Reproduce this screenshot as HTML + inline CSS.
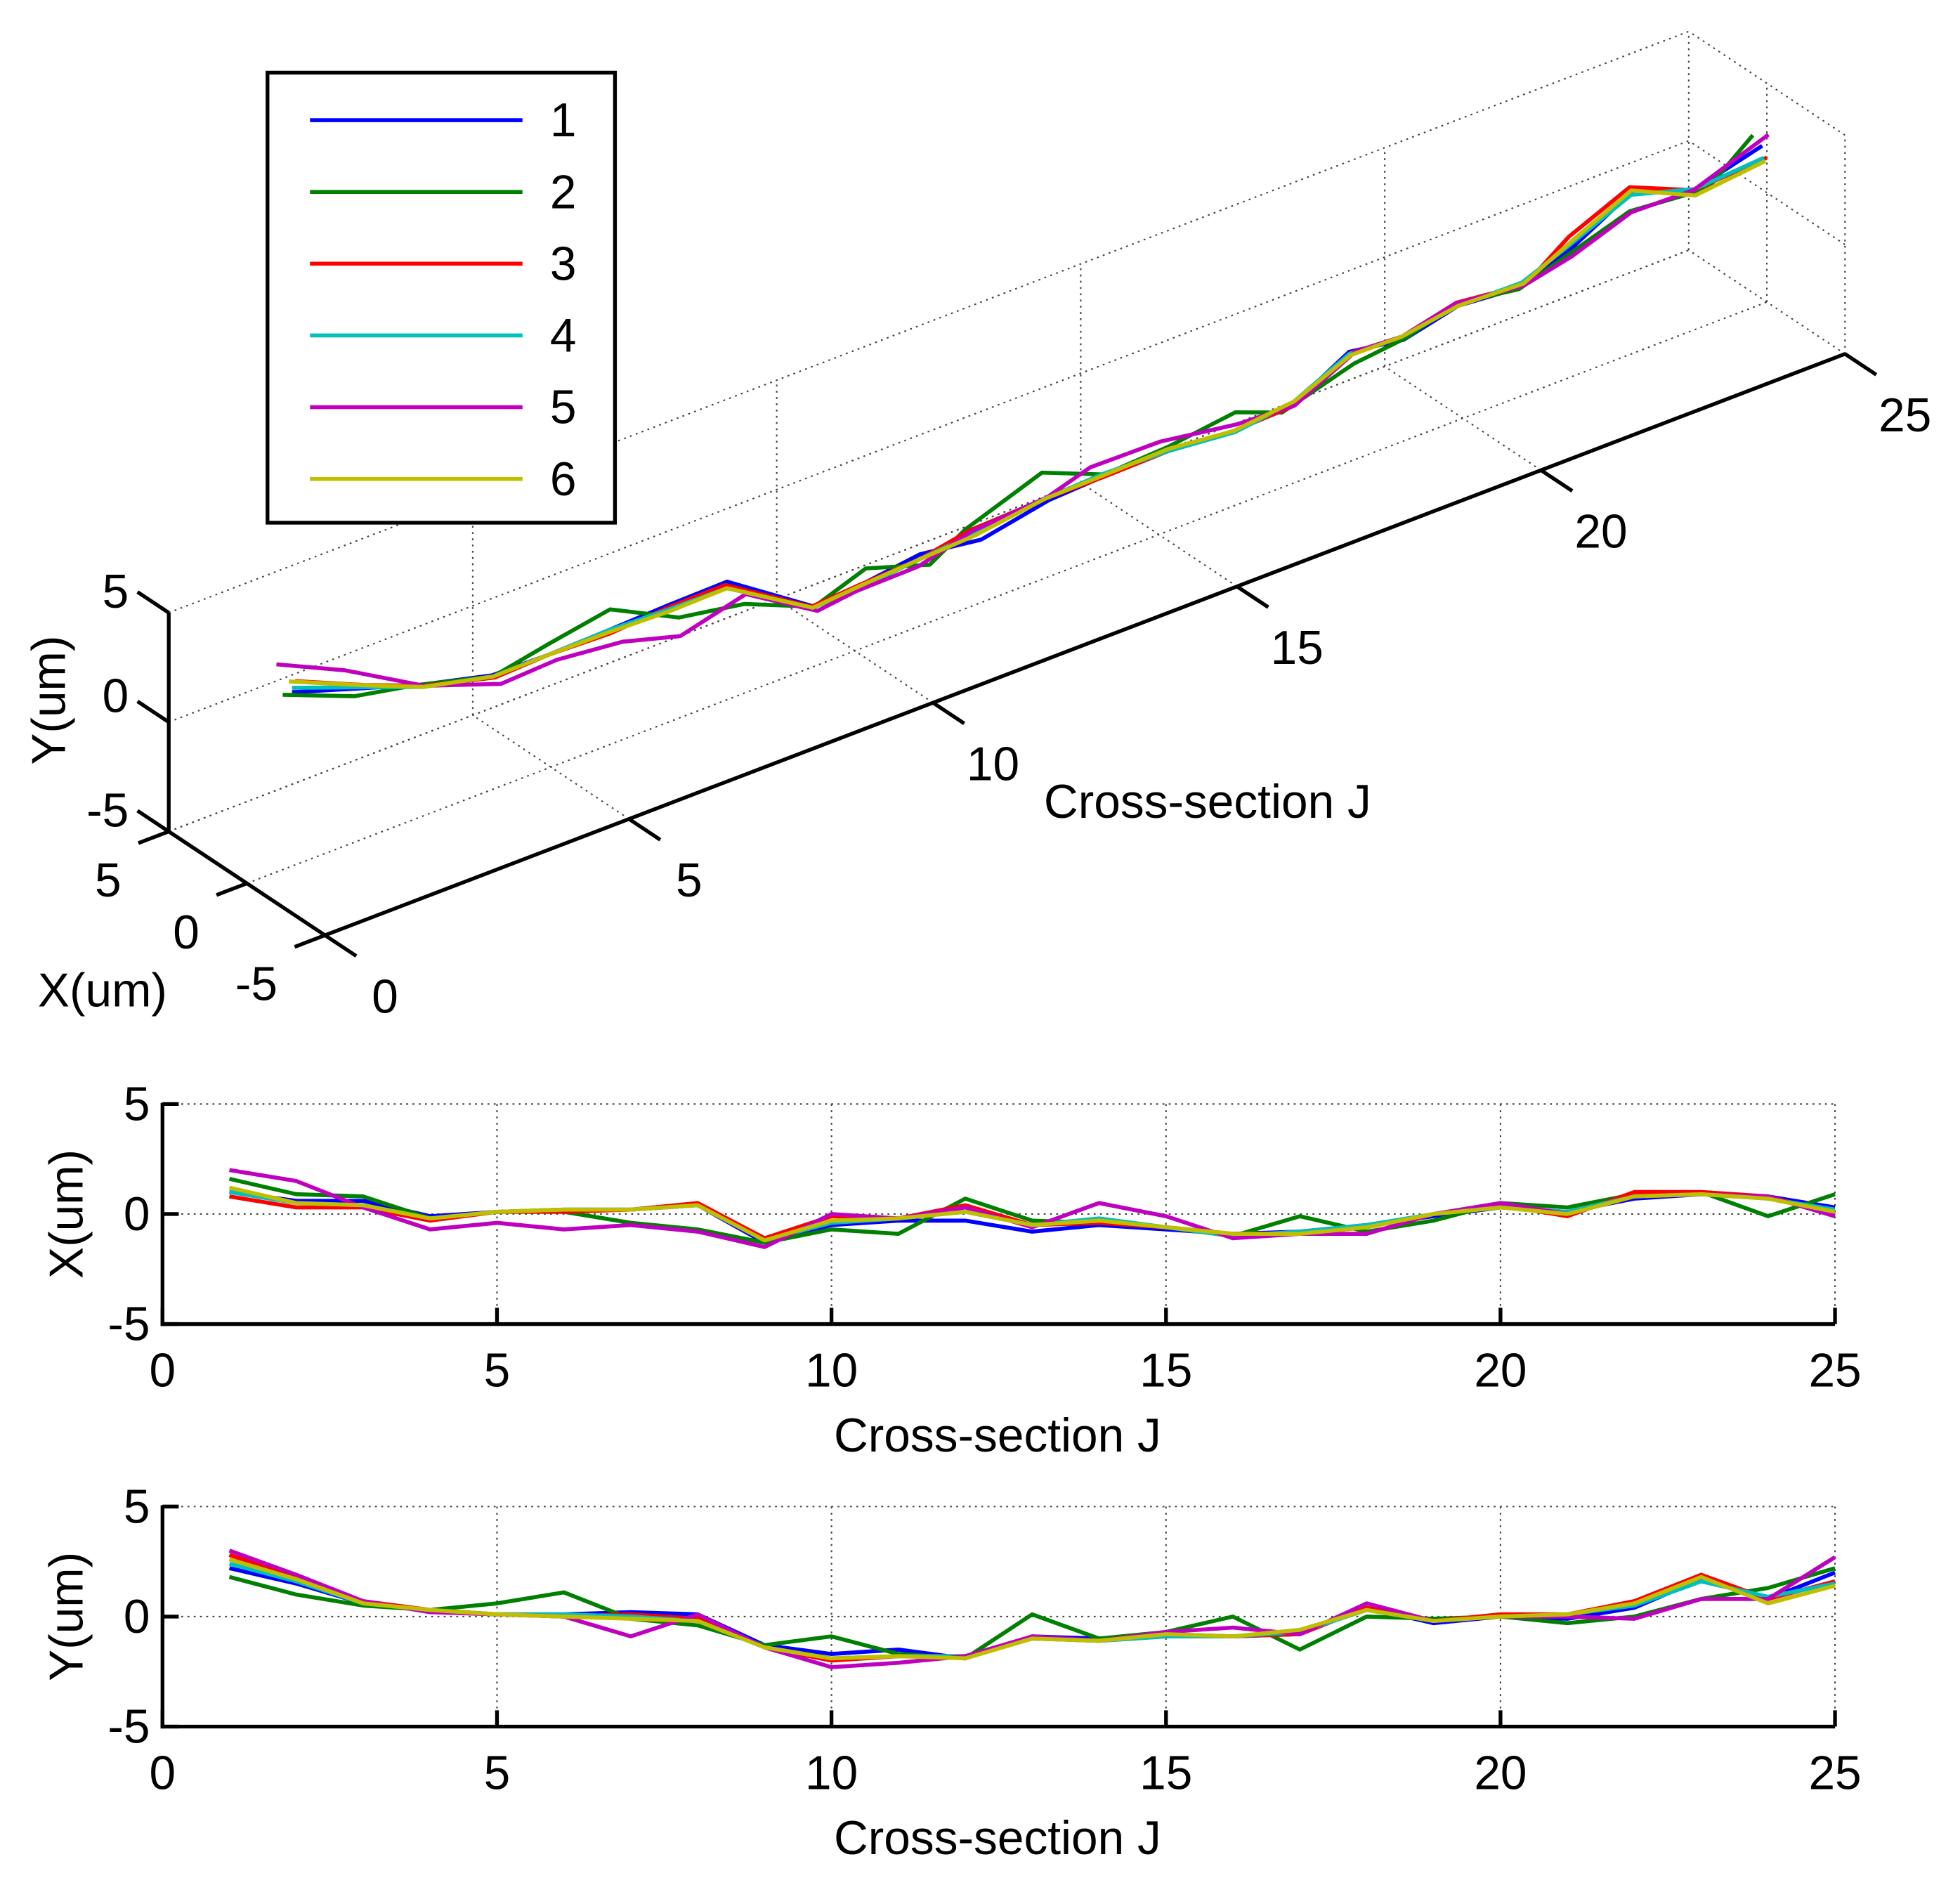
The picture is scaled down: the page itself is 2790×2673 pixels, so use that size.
<!DOCTYPE html>
<html><head><meta charset="utf-8">
<style>html,body{margin:0;padding:0;background:#fff}svg{display:block}text{font-family:"Liberation Sans",Arial,sans-serif;fill:#000}</style>
</head><body>
<svg id="chart" xmlns="http://www.w3.org/2000/svg" width="2790" height="2673" viewBox="0 0 1568 1502">
<rect width="1568" height="1502" fill="#fff"/>
<g id="g3d"></g>
<g id="gx"></g>
<g id="gy"></g>
<g id="legend"></g>
</svg>
<script>
const categories = [1,2,3,4,5,6,7,8,9,10,11,12,13,14,15,16,17,18,19,20,21,22,23,24,25];
const seriesNames = ['1','2','3','4','5','6'];
const seriesColors = ['#0000ff','#008000','#ff0000','#00bfbf','#bf00bf','#bfbf00'];
const xTickLabels = [0,5,10,15,20,25];
const yTickLabels = [-5,0,5];
const xS1 = [1.0,0.6,0.6,-0.1,0.1,0.2,0.2,0.4,-1.3,-0.5,-0.3,-0.3,-0.8,-0.5,-0.7,-0.9,-0.8,-0.5,-0.1,0.3,0.1,0.7,0.9,0.8,0.3];
const xS2 = [1.6,0.9,0.8,-0.2,0.1,0.1,-0.4,-0.7,-1.3,-0.7,-0.9,0.7,-0.3,-0.4,-0.6,-1.0,-0.1,-0.8,-0.3,0.5,0.3,0.9,1.0,-0.1,0.9];
const xS3 = [0.8,0.3,0.3,-0.3,0.1,0.1,0.2,0.5,-1.1,-0.1,-0.2,0.4,-0.5,-0.4,-0.6,-0.9,-0.9,-0.6,0.0,0.4,-0.1,1.0,1.0,0.8,0.0];
const xS4 = [1.0,0.5,0.4,-0.2,0.1,0.2,0.2,0.4,-1.2,-0.4,-0.2,0.1,-0.5,-0.2,-0.6,-1.0,-0.8,-0.5,0.0,0.3,0.1,0.8,0.9,0.7,0.2];
const xS5 = [2.0,1.5,0.3,-0.7,-0.4,-0.7,-0.5,-0.8,-1.5,0.0,-0.2,0.3,-0.6,0.5,-0.1,-1.1,-0.9,-0.9,0.0,0.5,0.0,0.8,0.9,0.8,-0.1];
const xS6 = [1.2,0.5,0.4,-0.2,0.1,0.2,0.2,0.4,-1.2,-0.3,-0.2,0.1,-0.5,-0.3,-0.6,-0.9,-0.9,-0.6,0.0,0.3,0.0,0.8,0.9,0.7,0.1];
const yS1 = [2.2,1.5,0.6,0.3,0.1,0.1,0.2,0.1,-1.3,-1.7,-1.5,-1.9,-0.9,-1.0,-0.8,-0.9,-0.8,0.4,-0.3,0.0,-0.1,0.4,1.7,0.8,2.0];
const yS2 = [1.8,1.0,0.5,0.3,0.6,1.1,-0.1,-0.4,-1.3,-0.9,-1.7,-1.9,0.1,-1.0,-0.7,0.0,-1.5,0.0,-0.1,0.0,-0.3,0.0,0.8,1.3,2.2];
const yS3 = [2.8,1.8,0.7,0.3,0.1,0.0,0.1,-0.1,-1.4,-2.0,-1.8,-1.8,-1.0,-1.1,-0.9,-0.9,-0.8,0.4,-0.2,0.1,0.1,0.7,1.9,0.8,1.6];
const yS4 = [2.4,1.6,0.6,0.3,0.1,0.1,0.0,-0.2,-1.4,-1.9,-1.8,-1.8,-1.0,-1.1,-0.9,-0.9,-0.7,0.3,-0.2,0.0,0.1,0.5,1.6,0.9,1.5];
const yS5 = [3.0,1.9,0.7,0.2,0.1,0.0,-0.9,0.1,-1.4,-2.3,-2.1,-1.8,-0.9,-1.1,-0.7,-0.5,-0.8,0.6,-0.2,0.0,0.0,-0.1,0.8,0.8,2.7];
const yS6 = [2.6,1.7,0.6,0.3,0.1,0.0,-0.1,-0.2,-1.4,-1.9,-1.8,-1.9,-1.0,-1.1,-0.8,-0.9,-0.6,0.3,-0.2,0.0,0.1,0.6,1.8,0.6,1.4];
const XD = [xS1,xS2,xS3,xS4,xS5,xS6];
const YD = [yS1,yS2,yS3,yS4,yS5,yS6];

const NS='http://www.w3.org/2000/svg';
const FS=38, LW=3.2, AW=3;
function mk(parent,tag,attrs){const e=document.createElementNS(NS,tag);for(const k in attrs)e.setAttribute(k,attrs[k]);parent.appendChild(e);return e;}
function line(p,x1,y1,x2,y2,st,w,dash){const l=mk(p,'line',{x1,y1,x2,y2,stroke:st,'stroke-width':w});if(dash)l.setAttribute('stroke-dasharray',dash);return l;}
function txt(p,x,y,s,anchor,size){const t=mk(p,'text',{x,y,'font-size':size||FS,'text-anchor':anchor||'middle'});t.textContent=s;return t;}

// ---- 3D plot ----
const g3=document.getElementById('g3d');
function P(j,x,y){return [260+48.64*j-12.5*(x+5), 748-18.6*j-8.3*(x+5)-17.5*(y+5)];}
const DOT='1.5,3.5';
function l3(a,b,st,w,dash){const A=P(...a),B=P(...b);return line(g3,A[0],A[1],B[0],B[1],st,w,dash);}
[-5,0,5].forEach(y=>{const e=l3([0,5,y],[25,5,y],'#444',1.2,DOT);});
xTickLabels.forEach(j=>{const e=l3([j,5,-5],[j,5,5],'#444',1.2,DOT);});
[0,5].forEach(x=>{const e=l3([0,x,-5],[25,x,-5],'#444',1.2,DOT);});
xTickLabels.forEach(j=>{if(j>0){const e=l3([j,-5,-5],[j,5,-5],'#444',1.2,DOT);}});
[0,5].forEach(y=>{const e=l3([25,-5,y],[25,5,y],'#444',1.2,DOT);});
{const e=l3([25,-5,-5],[25,-5,5],'#444',1.2,DOT);}
{const e=l3([25,0,-5],[25,0,5],'#444',1.2,DOT);}
{const e=l3([0,5,-5],[0,5,5],'#000',AW);}
{const e=l3([0,-5,-5],[0,5,-5],'#000',AW);}
{const e=l3([0,-5,-5],[25,-5,-5],'#000',AW);}
yTickLabels.forEach(y=>{const a=P(0,5,y),b=P(0,7,y);line(g3,a[0],a[1],b[0],b[1],'#000',AW);
 const t=txt(g3,a[0]-32,a[1]+(y===5?-4:y===0?-8:-4),String(y),'end');});
yTickLabels.forEach(x=>{const a=P(0,x,-5),b=P(-0.5,x,-5);line(g3,a[0],a[1],b[0],b[1],'#000',AW);
 const t=txt(g3,a[0]-38,a[1]+52,String(x),'end');});
xTickLabels.forEach(j=>{const a=P(j,-5,-5),b=P(j,-7,-5);line(g3,a[0],a[1],b[0],b[1],'#000',AW);
 const t=txt(g3,a[0]+48,a[1]+62,String(j),'middle');});
{const t=txt(g3,966,654,'Cross-section J');}
{const t=txt(g3,82,805,'X(um)');}
{const t=txt(g3,0,0,'Y(um)');t.setAttribute('transform','translate(52,560) rotate(-90)');}
XD.forEach((xs,s)=>{const pts=categories.map((j,i)=>P(j,xs[i],YD[s][i]).join(',')).join(' ');
 const pl=mk(g3,'polyline',{points:pts,fill:'none',stroke:seriesColors[s],'stroke-width':LW,'stroke-linejoin':'round'});
 
 });

// ---- 2D plots ----
function plot2d(gid,top,data,ylab){
 const g=document.getElementById(gid);
 const L=130,R=1468,T=top,B=top+176;
 const sx=j=>L+(R-L)*j/25, sy=v=>(T+B)/2-v*(B-T)/10;
 xTickLabels.forEach(j=>{if(j>0){const e=line(g,sx(j),T,sx(j),B,'#444',1.2,DOT);}});
 {const e=line(g,L,T,R,T,'#444',1.2,DOT);}
 {const e=line(g,L,sy(0),R,sy(0),'#444',1.2,DOT);}
 {const e=line(g,L,T-1,L,B+1.5,'#000',AW);}
 {const e=line(g,L-1.5,B,R,B,'#000',AW);}
 xTickLabels.forEach(j=>{line(g,sx(j),B,sx(j),B-13,'#000',AW);
  const t=txt(g,sx(j),B+50,String(j));});
 yTickLabels.forEach(v=>{line(g,L,sy(v),L+13,sy(v),'#000',AW);
  const t=txt(g,L-10,sy(v)+13,String(v),'end');});
 {const t=txt(g,798,B+102,'Cross-section J');}
 {const t=txt(g,0,0,ylab);t.setAttribute('transform','translate(66,'+((T+B)/2)+') rotate(-90)');}
 data.forEach((vals,s)=>{const pts=categories.map((j,i)=>sx(j)+','+sy(vals[i])).join(' ');
  const pl=mk(g,'polyline',{points:pts,fill:'none',stroke:seriesColors[s],'stroke-width':LW,'stroke-linejoin':'round'});
  
  });
}
plot2d('gx',883,XD,'X(um)');
plot2d('gy',1205,YD,'Y(um)');

// ---- legend ----
const lg=document.getElementById('legend');
{const r=mk(lg,'rect',{x:214,y:58,width:278,height:360,fill:'#fff',stroke:'#000','stroke-width':AW});}
seriesNames.forEach((n,s)=>{const y=96+s*57.4;
 const e=line(lg,248,y,418,y,seriesColors[s],LW);
 
 
 const t=txt(lg,440,y+13,n,'start');
 
 });
</script>
</body></html>
